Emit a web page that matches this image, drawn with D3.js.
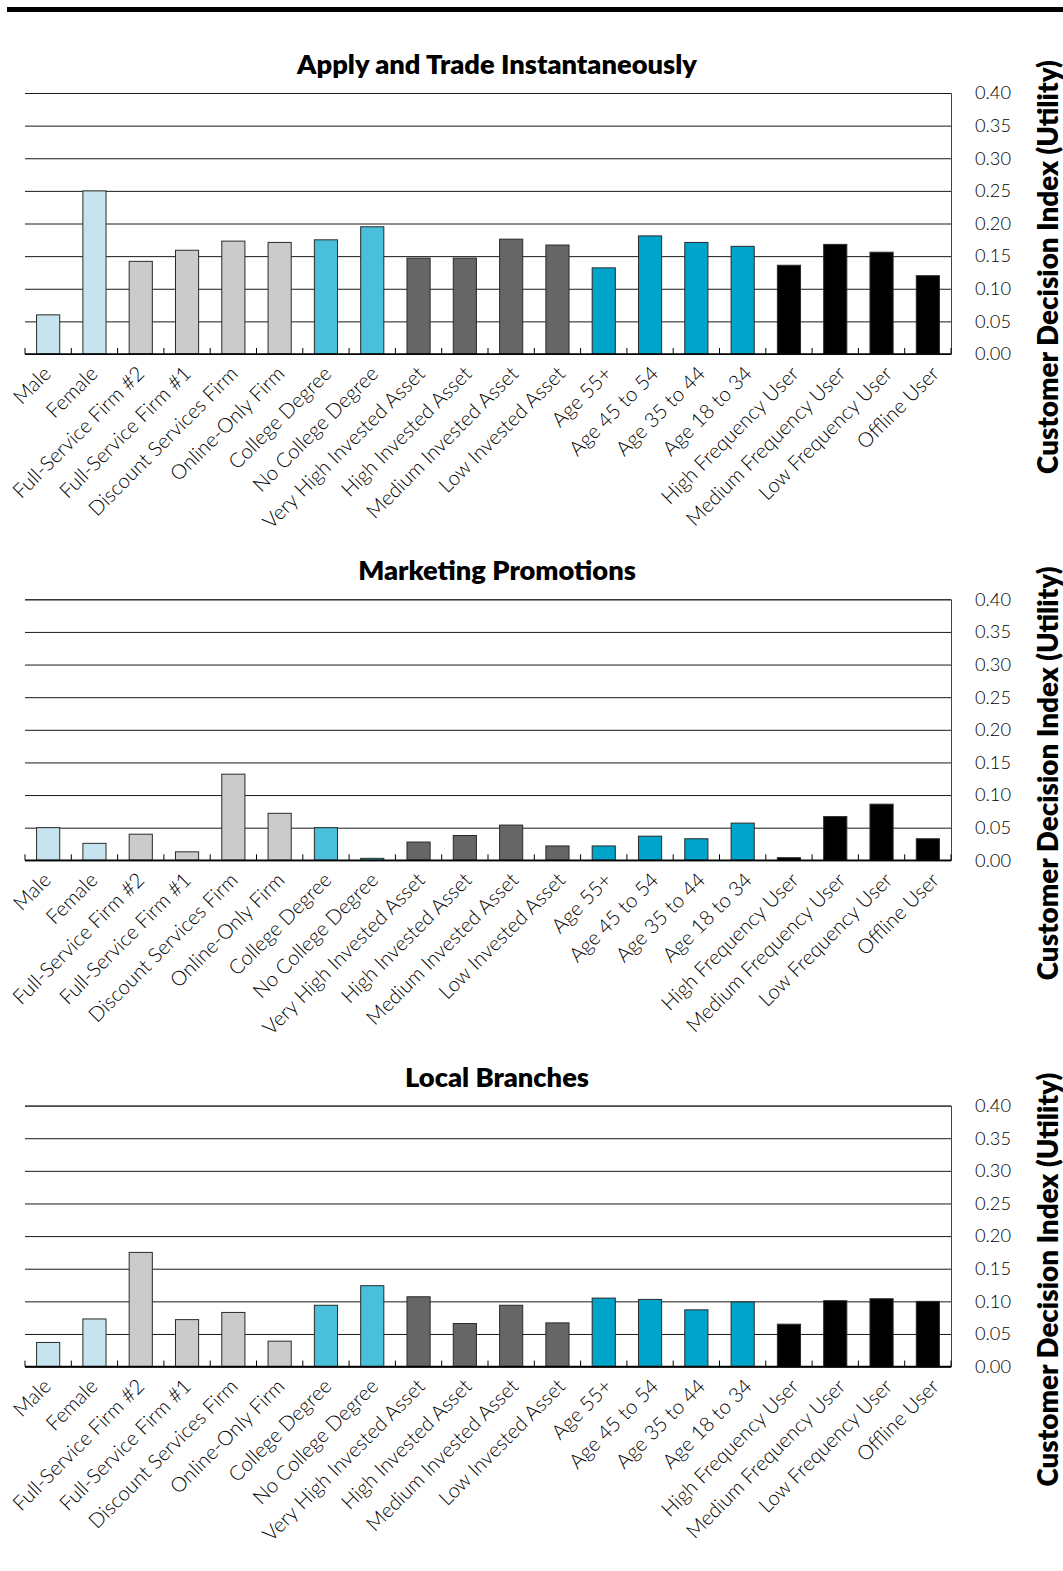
<!DOCTYPE html>
<html>
<head>
<meta charset="utf-8">
<script src="https://cdn.jsdelivr.net/npm/d3@7/dist/d3.min.js"></script>
<style>
  html, body { margin: 0; padding: 0; background: #fff; }
  svg { display: block; }
  text { font-family: Lato, "Open Sans", sans-serif; fill: #000; }
</style>
</head>
<body>
<svg id="chart" width="1063" height="1571"></svg>
<script>
// Customer segments along the horizontal axis
const categories = [
  "Male", "Female",
  "Full-Service Firm #2", "Full-Service Firm #1", "Discount Services Firm", "Online-Only Firm",
  "College Degree", "No College Degree",
  "Very High Invested Asset", "High Invested Asset", "Medium Invested Asset", "Low Invested Asset",
  "Age 55+", "Age 45 to 54", "Age 35 to 44", "Age 18 to 34",
  "High Frequency User", "Medium Frequency User", "Low Frequency User", "Offline User"
];

// Segment family of each category (drives the bar colour)
const segmentGroup = [
  "gender", "gender",
  "firm", "firm", "firm", "firm",
  "education", "education",
  "assets", "assets", "assets", "assets",
  "age", "age", "age", "age",
  "usage", "usage", "usage", "usage"
];

// Customer Decision Index (utility) per attribute
const applyAndTrade = [
  0.060, 0.250, 0.142, 0.159, 0.173, 0.171, 0.175, 0.195, 0.147, 0.147,
  0.176, 0.167, 0.132, 0.181, 0.171, 0.165, 0.136, 0.168, 0.156, 0.120
];
const marketingPromotions = [
  0.050, 0.026, 0.040, 0.013, 0.132, 0.072, 0.050, 0.003, 0.028, 0.038,
  0.054, 0.022, 0.022, 0.037, 0.033, 0.057, 0.004, 0.067, 0.086, 0.033
];
const localBranches = [
  0.037, 0.073, 0.175, 0.072, 0.083, 0.039, 0.094, 0.124, 0.107, 0.066,
  0.094, 0.067, 0.105, 0.103, 0.087, 0.099, 0.065, 0.101, 0.104, 0.100
];

const panelTitles = ["Apply and Trade Instantaneously", "Marketing Promotions", "Local Branches"];
const panelValues = [applyAndTrade, marketingPromotions, localBranches];

const yTicks = [0.00, 0.05, 0.10, 0.15, 0.20, 0.25, 0.30, 0.35, 0.40];
const yTitle = "Customer Decision Index (Utility)";

// ---- styling / layout ----
const groupColor = {
  gender: "#c5e4ef",
  firm: "#cbcbcb",
  education: "#4abfd9",
  assets: "#666666",
  age: "#00a3c9",
  usage: "#000000"
};

const svg = d3.select("#chart");

// pick a font size so that a sample string spans the wanted width
function fitSize(sample, weight, targetWidth) {
  const probe = svg.append("text")
    .attr("font-size", 20)
    .attr("font-weight", weight)
    .text(sample);
  const w = probe.node().getComputedTextLength();
  probe.remove();
  return 20 * targetWidth / w;
}

const titleSize = fitSize(panelTitles[0], 800, 400);
const yTitleSize = fitSize(yTitle, 800, 414);
const catSize = fitSize("Full-Service Firm #2", 300, 176);
const tickSize = fitSize("0.40", 300, 36);

// heavy rule across the top of the page
svg.append("rect")
  .attr("x", 7).attr("y", 7)
  .attr("width", 1056).attr("height", 5)
  .attr("fill", "#000");

const plotLeft = 25, plotRight = 951;
const plotHeight = 261;
const firstTop = 93, panelStep = 506.3;

const x = d3.scaleBand()
  .domain(categories)
  .range([plotLeft, plotRight])
  .paddingInner(0.5)
  .paddingOuter(0.25);

panelValues.forEach((values, p) => {
  const top = firstTop + p * panelStep;
  const bottom = top + plotHeight;
  const g = svg.append("g");

  const y = d3.scaleLinear().domain([0, 0.4]).range([bottom, top]);

  // title
  g.append("text")
    .attr("x", 497)
    .attr("y", top - 19)
    .attr("text-anchor", "middle")
    .attr("font-size", titleSize)
    .attr("font-weight", 800)
    .text(panelTitles[p]);

  // gridlines + right-hand tick labels
  const axis = d3.axisRight(y)
    .tickValues(yTicks)
    .tickFormat(d3.format(".2f"))
    .tickSize(-(plotRight - plotLeft))
    .tickPadding(24);

  const ag = g.append("g")
    .attr("transform", `translate(${plotRight},0)`)
    .call(axis);
  ag.select(".domain")
    .attr("stroke", "#444")
    .attr("stroke-width", 1);
  ag.selectAll(".tick line")
    .attr("stroke", "#1a1a1a")
    .attr("stroke-width", 1);
  ag.selectAll(".tick text")
    .attr("font-family", "Lato, sans-serif")
    .attr("font-weight", 300)
    .attr("font-size", tickSize)
    .attr("fill", "#111");

  // bars
  g.selectAll("rect.bar")
    .data(values)
    .join("rect")
    .attr("class", "bar")
    .attr("x", (d, i) => x(categories[i]))
    .attr("width", x.bandwidth())
    .attr("y", d => y(d))
    .attr("height", d => y(0) - y(d))
    .attr("fill", (d, i) => groupColor[segmentGroup[i]])
    .attr("stroke", "#2a2a2a")
    .attr("stroke-width", 1);

  // baseline
  g.append("line")
    .attr("x1", plotLeft).attr("x2", plotRight)
    .attr("y1", y(0)).attr("y2", y(0))
    .attr("stroke", "#000")
    .attr("stroke-width", 1.6);

  // category separator ticks rising from the baseline
  const boundaries = d3.range(categories.length + 1).map(i => plotLeft + i * x.step());
  g.selectAll("line.sep")
    .data(boundaries)
    .join("line")
    .attr("class", "sep")
    .attr("x1", d => d).attr("x2", d => d)
    .attr("y1", y(0)).attr("y2", y(0) - 6)
    .attr("stroke", "#000")
    .attr("stroke-width", 1);

  // slanted category labels
  g.selectAll("text.cat")
    .data(categories)
    .join("text")
    .attr("class", "cat")
    .attr("text-anchor", "end")
    .attr("font-weight", 300)
    .attr("font-size", catSize)
    .attr("transform", (d, i) => {
      const cx = x(d) + x.bandwidth() / 2 + 4 + i * 0.45;
      return `translate(${cx},${bottom + 21}) rotate(-45)`;
    })
    .text(d => d);

  // vertical axis title on the far right
  g.append("text")
    .attr("text-anchor", "middle")
    .attr("font-size", yTitleSize)
    .attr("font-weight", 800)
    .attr("transform", `translate(1058,${top + 174}) rotate(-90)`)
    .text(yTitle);
});
</script>
</body>
</html>
